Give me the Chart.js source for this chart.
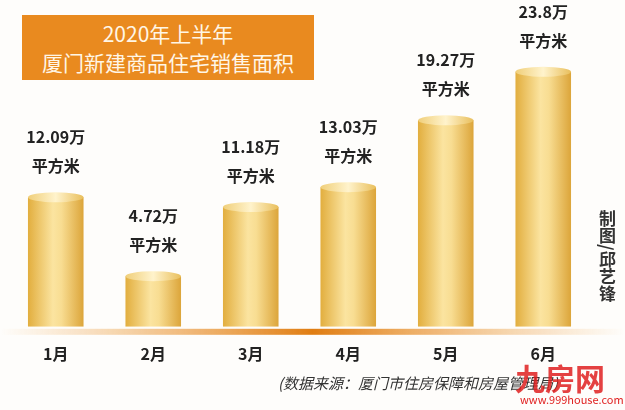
<!DOCTYPE html>
<html><head><meta charset="utf-8">
<script src="https://cdn.jsdelivr.net/npm/chart.js@4/dist/chart.umd.min.js"></script>
<style>
body{margin:0;background:#fefdfb;font-family:"Noto Sans CJK SC",sans-serif;}
#wrap{position:relative;width:625px;height:410px;}
#title{position:absolute;left:22px;top:15px;width:292px;height:65px;background:#e98a1f;color:#fff6e6;text-align:center;font-size:21px;line-height:29px;padding-top:4px;box-sizing:border-box;}
#side{position:absolute;left:597px;top:210px;width:20px;font-size:17px;font-weight:bold;color:#333;line-height:19px;writing-mode:vertical-rl;}
#src{position:absolute;left:278px;top:372px;font-size:15px;color:#333;font-style:italic;}
#wm{position:absolute;left:515px;top:355px;color:#e02020;font-size:30px;font-weight:bold;opacity:0.85;}
#wm2{position:absolute;left:520px;top:391px;color:#e02020;font-size:11px;}
</style></head><body>
<div id="wrap">
<canvas id="c" width="625" height="410"></canvas>
<div id="title">2020年上半年<br>厦门新建商品住宅销售面积</div>
<div id="side">制图/邱艺锋</div>
<div id="src">(数据来源：厦门市住房保障和房屋管理局)</div>
<div id="wm">九房网</div><div id="wm2">www.999house.com</div>
</div>
<script>
const categories=["1月","2月","3月","4月","5月","6月"];
const values=[12.09,4.72,11.18,13.03,19.27,23.8];
const valueLabels=["12.09万","4.72万","11.18万","13.03万","19.27万","23.8万"];
const unit="平方米";
const cv=document.getElementById('c');cv.style.width='625px';cv.style.height='410px';
const deco={id:'deco',
 beforeDatasetsDraw(ch){const c=ch.ctx,a=ch.chartArea;
  const g=c.createLinearGradient(0,0,625,0);g.addColorStop(0,'rgba(240,160,60,0)');g.addColorStop(0.5,'#e07d12');g.addColorStop(1,'rgba(240,160,60,0)');
  c.fillStyle=g;c.fillRect(0,a.bottom+2,625,6);},
 afterDatasetsDraw(ch){const c=ch.ctx;ch.getDatasetMeta(0).data.forEach((b,i)=>{
  const w=b.width,x=b.x,y=b.y;
  const g=c.createLinearGradient(x-w/2,0,x+w/2,0);g.addColorStop(0,'#f0cf7a');g.addColorStop(0.5,'#fff3cc');g.addColorStop(1,'#e9bf5c');
  c.fillStyle=g;c.beginPath();c.ellipse(x,y,w/2,5,0,0,Math.PI*2);c.fill();
  c.fillStyle='#222';c.textAlign='center';c.font='bold 16px "Noto Sans CJK SC"';
  c.fillText(valueLabels[i],x,y-54);c.fillText(unit,x,y-25);});}};
new Chart(cv,{type:'bar',data:{labels:categories,datasets:[{data:values,
 backgroundColor(ctx){const ch=ctx.chart;const sx=ch.scales&&ch.scales.x;if(!sx)return '#e8b850';
  const x=sx.getPixelForValue(ctx.dataIndex);if(!isFinite(x))return '#e8b850';
  const w=(sx.width/categories.length)*0.57;const g=ch.ctx.createLinearGradient(x-w/2,0,x+w/2,0);
  g.addColorStop(0,'#e2ae3e');g.addColorStop(0.45,'#fbe4a0');g.addColorStop(0.6,'#f8dd92');g.addColorStop(1,'#dca53a');return g;},
 barPercentage:0.57,categoryPercentage:1}]},
 options:{responsive:false,animation:false,devicePixelRatio:1,
  layout:{padding:{left:7,right:33,top:45,bottom:36}},
  plugins:{legend:{display:false},tooltip:{enabled:false}},
  scales:{y:{display:false,min:0,max:26.3},
   x:{grid:{display:false},border:{display:false},ticks:{color:'#222',font:{size:16,weight:'bold',family:'"Noto Sans CJK SC"'},padding:10}}}},
 plugins:[deco]});
</script></body></html>
